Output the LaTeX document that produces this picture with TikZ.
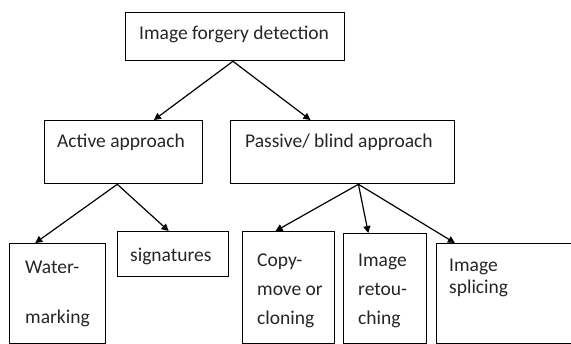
\documentclass[tikz,border=0pt]{standalone}
\usepackage{fontspec}
\setmainfont{Carlito}
\usetikzlibrary{arrows.meta,calc}
\begin{document}
\begin{tikzpicture}[x=1pt,y=-1pt,
  box/.style={draw=black,line width=1.3pt,rectangle,inner sep=0pt,anchor=north west},
  txt/.style={anchor=base west,inner sep=0pt,font=\fontsize{19.5}{23}\selectfont,text=black!85},
  conn/.style={draw=black,line width=1.2pt,-{Triangle[length=7pt,width=7pt]}}]
\useasboundingbox[fill=white] (0,0) rectangle (571,344);
\begin{scope}
\clip (0,0) rectangle (571,344);
% boxes
\node[box,minimum width=219pt,minimum height=48pt] (top) at (125,12) {};
\node[box,minimum width=158pt,minimum height=63pt] (act) at (44,120) {};
\node[box,minimum width=224pt,minimum height=63pt] (pas) at (230,120) {};
\node[box,minimum width=96pt,minimum height=100pt] (wat) at (9,243) {};
\node[box,minimum width=111pt,minimum height=45pt] (sig) at (117,231) {};
\node[box,minimum width=92pt,minimum height=112pt] (cop) at (242,231) {};
\node[box,minimum width=83pt,minimum height=110pt] (ret) at (343,233) {};
\node[box,minimum width=144pt,minimum height=100pt] (spl) at (436,243) {};
% texts
\node[txt] (t1) at (139,40) {Image forgery detection};
\node[txt] (t2) at (57,148) {Active approach};
\node[txt] (t3) at (245,148) {Passive/ blind approach};
\node[txt] (t4) at (25,274) {Water-};
\node[txt] (t5) at (25,324) {marking};
\node[txt] (t6) at (130,262) {signatures};
\node[txt] (t7) at (257,267) {Copy-};
\node[txt] (t8) at (257,296) {move or};
\node[txt] (t9) at (257,325) {cloning};
\node[txt] (t10) at (358,267) {Image};
\node[txt] (t11) at (358,296) {retou-};
\node[txt] (t12) at (358,325) {ching};
\node[txt] (t13) at (449,272) {Image};
\node[txt] (t14) at (449,294) {splicing};
\end{scope}
% connectors
\draw[conn] ($(top.south west)!0.49!(top.south east)$) -- ($(act.north west)!0.69!(act.north east)$);
\draw[conn] ($(top.south west)!0.49!(top.south east)$) -- ($(pas.north west)!0.357!(pas.north east)$);
\draw[conn] ($(act.south west)!0.46!(act.south east)$) -- ($(wat.north west)!0.27!(wat.north east)$);
\draw[conn] ($(act.south west)!0.46!(act.south east)$) -- ($(sig.north west)!0.46!(sig.north east)$);
\draw[conn] ($(pas.south west)!0.57!(pas.south east)$) -- ($(cop.north west)!0.36!(cop.north east)$);
\draw[conn] ($(pas.south west)!0.57!(pas.south east)$) -- ($(ret.north west)!0.30!(ret.north east)$);
\draw[conn] ($(pas.south west)!0.57!(pas.south east)$) -- ($(spl.north west)!0.13!(spl.north east)$);
\end{tikzpicture}
\end{document}
